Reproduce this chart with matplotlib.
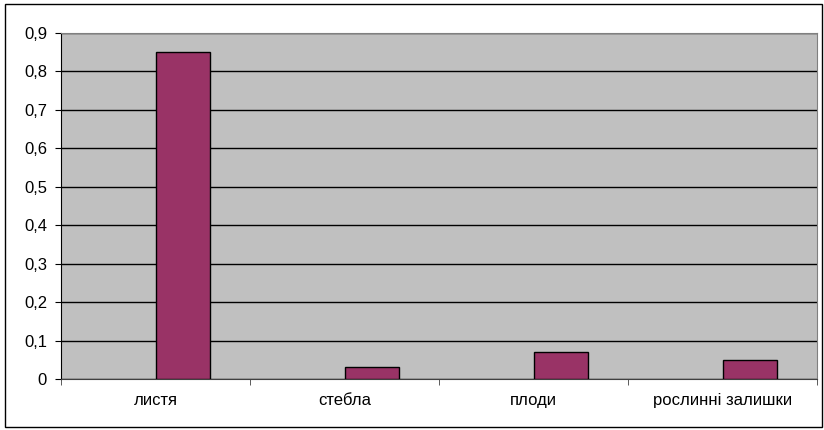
import matplotlib.pyplot as plt
import matplotlib.patches as patches
from matplotlib.ticker import FuncFormatter, MultipleLocator
import numpy as np

plt.rcParams['font.family'] = ['Liberation Sans', 'DejaVu Sans']

categories = ['листя', 'стебла', 'плоди', 'рослинні залишки']
values = [0.85, 0.03, 0.07, 0.05]

W, H = 824, 430
fig = plt.figure(figsize=(W / 100, H / 100), dpi=100)
fig.patch.set_facecolor('white')

# outer chart border
fig.add_artist(patches.Rectangle((5 / W, 3 / H), 817 / W, 423 / H,
                                 transform=fig.transFigure, fill=False,
                                 edgecolor='black', linewidth=1))

ax = fig.add_axes([61 / W, (H - 379) / H, 756 / W, 346 / H])
ax.set_facecolor('#C0C0C0')

x = np.arange(len(categories))
ax.bar(x, values, width=0.29, align='edge', color='#993366',
       edgecolor='black', linewidth=1, zorder=3)

ax.set_xlim(-0.5, len(categories) - 0.5)
ax.set_ylim(0, 0.9)
ax.yaxis.set_major_locator(MultipleLocator(0.1))
ax.yaxis.set_major_formatter(FuncFormatter(
    lambda v, p: '0' if abs(v) < 1e-9 else f'{v:.1f}'.replace('.', ',')))
ax.yaxis.grid(True, color='black', linewidth=1, zorder=1)
ax.set_axisbelow(True)

# category labels centred, tick marks on category boundaries
ax.set_xticks(x)
ax.set_xticklabels(categories)
ax.set_xticks(np.arange(-0.5, len(categories)), minor=True)
ax.tick_params(axis='x', which='major', length=0, pad=10, labelsize=12)
ax.tick_params(axis='x', which='minor', length=4, direction='out', color='#404040')
ax.tick_params(axis='y', length=4, direction='out', pad=6, labelsize=12)

for s in ['top', 'right']:
    ax.spines[s].set_color('#808080')
ax.spines['left'].set_color('black')
ax.spines['bottom'].set_color('#404040')

fig.savefig('out.png', dpi=100)
